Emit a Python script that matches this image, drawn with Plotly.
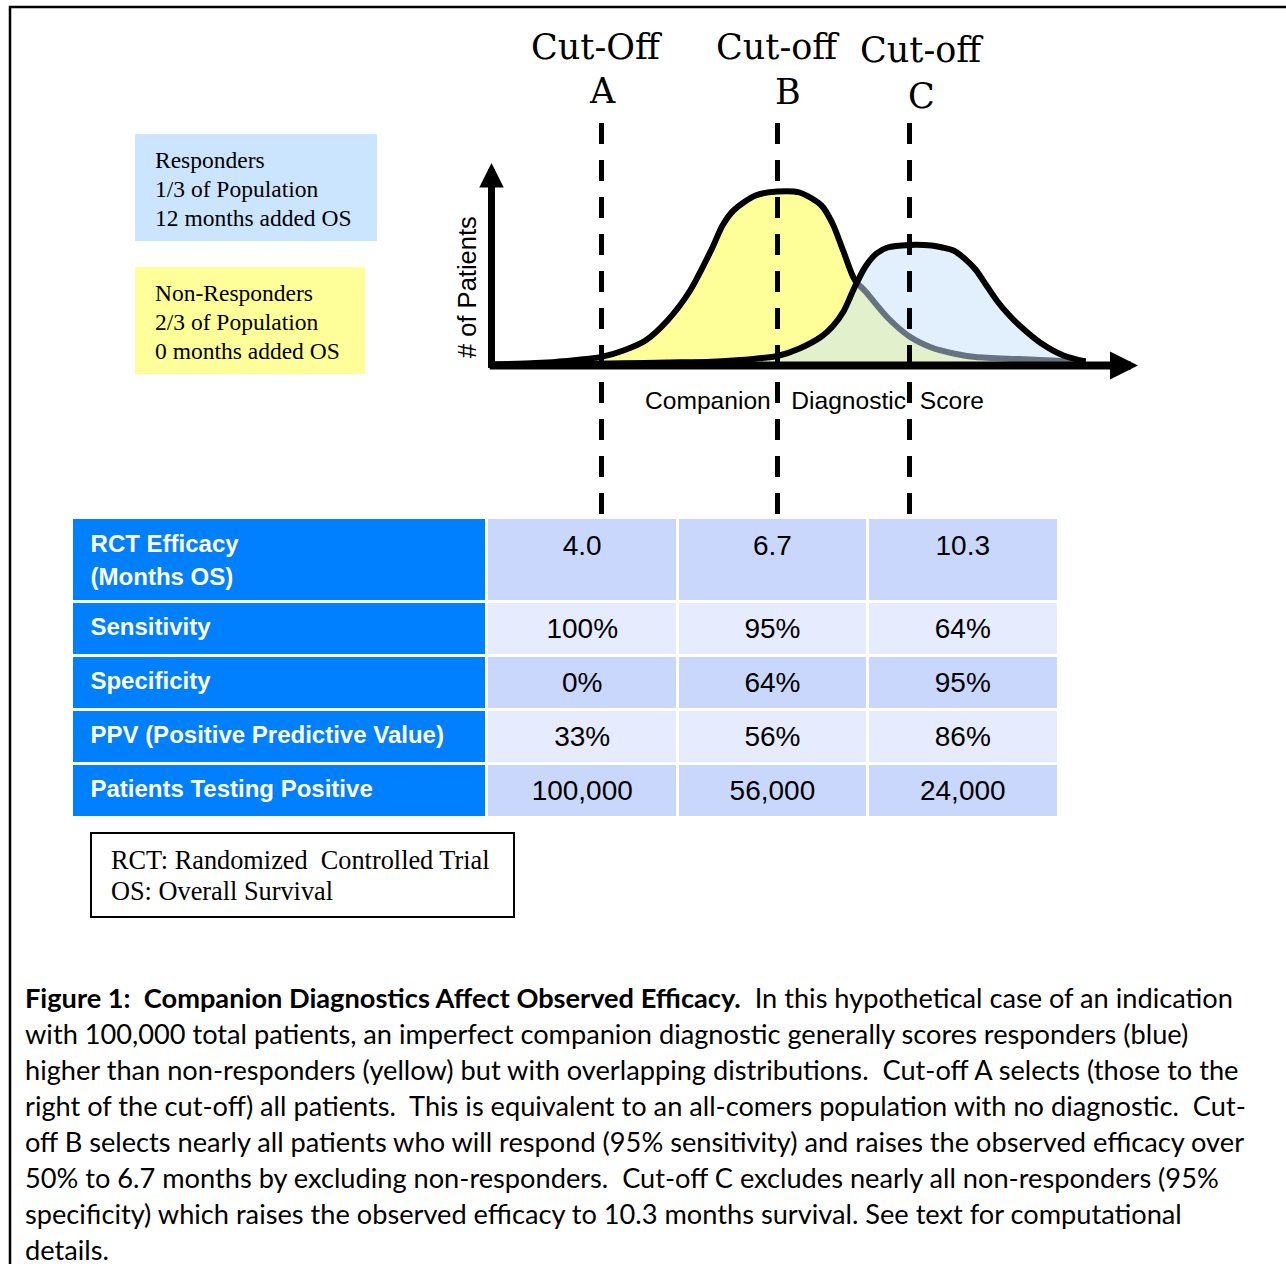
import plotly.graph_objects as go

# ---- canvas -------------------------------------------------------------
W, H = 1286, 1264

def fx(px):
    return px / W

def fy(py):
    return 1 - py / H

# ---- score distributions (diagnostic score vs. number of patients) -------
non_responder_score = [0, 2, 3, 5, 6, 7, 8, 9, 10, 10.5, 11, 12, 13, 14, 15, 15.5,
                       16, 16.5, 17, 18, 19, 20, 21, 22, 24, 26, 27]
non_responder_count = [0.5, 1.2, 1.9, 4.3, 7.5, 12.5, 22.5, 37, 58, 70, 77.5, 85, 87,
                       86.5, 80, 71, 57, 43, 37, 24, 14.5, 9, 6, 4.2, 3.2, 2.3, 2]

responder_score = [4, 6, 8, 10, 11, 12, 13, 14, 15, 15.5, 16, 16.5, 17, 17.5, 18, 19,
                   20, 20.5, 21, 21.5, 22, 22.5, 23, 23.5, 24, 25, 26, 27]
responder_count = [0.8, 1.1, 1.5, 1.9, 2.5, 3.4, 4.75, 8.5, 14.5, 19.5, 27, 39, 49.5,
                   56, 59, 60.3, 60, 59, 57.5, 53.5, 48, 40, 32, 25.5, 20, 11, 5, 2]

cutoff_scores = [5, 13, 19]
cutoff_titles = ["Cut-Off", "Cut-off", "Cut-off"]
cutoff_letters = ["A", "B", "C"]

# ---- table --------------------------------------------------------------
row_labels = ["RCT Efficacy<br>(Months OS)", "Sensitivity", "Specificity",
              "PPV (Positive Predictive Value)", "Patients Testing Positive"]
efficacy_months = [4.0, 6.7, 10.3]
sensitivity_pct = [100, 95, 64]
specificity_pct = [0, 64, 95]
ppv_pct = [33, 56, 86]
patients_positive = [100000, 56000, 24000]

legend_lines = {
    "resp": ["Responders", "1/3 of Population", "12 months added OS"],
    "nonresp": ["Non-Responders", "2/3 of Population", "0 months added OS"],
}
abbreviations = ["RCT: Randomized\u00a0 Controlled Trial", "OS: Overall Survival"]

caption_lines = [
    "<b>Figure 1:\u00a0 Companion Diagnostics Affect Observed Efficacy.</b>\u00a0 In this hypothetical case of an indication",
    "with 100,000 total patients, an imperfect companion diagnostic generally scores responders (blue)",
    "higher than non-responders (yellow) but with overlapping distributions.\u00a0 Cut-off A selects (those to the",
    "right of the cut-off) all patients.\u00a0 This is equivalent to an all-comers population with no diagnostic.\u00a0 Cut-",
    "off B selects nearly all patients who will respond (95% sensitivity) and raises the observed efficacy over",
    "50% to 6.7 months by excluding non-responders.\u00a0 Cut-off C excludes nearly all non-responders (95%",
    "specificity) which raises the observed efficacy to 10.3 months survival. See text for computational",
    "details.",
]

# ---- styling ------------------------------------------------------------
SANS = "Liberation Sans, Arial, sans-serif"
SERIF = "Liberation Serif, Times New Roman, serif"
TITLE_SERIF = "DejaVu Serif, serif"
CAPTION = "Lato, Carlito, sans-serif"
HEADER_BLUE = "#0080FF"
CELL_DARK = "#CAD7FD"
CELL_LIGHT = "#E6EBFD"

# pixel scale of the score chart: origin at (491.5, 365.5), 22 px per score
# unit, 2 px per patient unit
X0, XS = 491.5, 22.0
Y0, YS = 365.5, 2.0
x_range = [(0 - X0) / XS, (W - X0) / XS]
y_range = [(Y0 - H) / YS, Y0 / YS]

fig = go.Figure()

fig.add_trace(go.Scatter(
    x=non_responder_score, y=non_responder_count, mode="lines",
    line=dict(color="black", width=6, shape="spline", smoothing=0.8),
    fill="tozeroy", fillcolor="#FFFF99", hoverinfo="skip", showlegend=False))

fig.add_trace(go.Scatter(
    x=responder_score, y=responder_count, mode="lines",
    line=dict(color="black", width=6, shape="spline", smoothing=0.8),
    fill="tozeroy", fillcolor="rgba(198,226,251,0.514)", hoverinfo="skip",
    showlegend=False))

# ---- table ---------------------------------------------------------------
# Table text sits at the top of each cell; a taller no-break space in front of
# the text pushes the baseline down so it sits in the middle of the cell.
def strut(size):
    return f'<span style="font-size:{size}px">\u00a0</span>'

def value_cell(text):
    return f"{strut(32.5)}{text}{strut(32.5)}<br>"

def label_cell(text, strut_size=28.4):
    return (f'{strut(strut_size)}<span style="font-size:12px">\u00a0</span>'
            f'<span style="font-size:24px"><b>{text}</b></span>')

def pct(v):
    return f"{v}%"

label_cells = [label_cell(lab) + "<br>" for lab in row_labels[1:]]
value_columns = []
for i in range(3):
    column = [pct(sensitivity_pct[i]), pct(specificity_pct[i]),
              pct(ppv_pct[i]), f"{patients_positive[i]:,}"]
    value_columns.append([value_cell(v) for v in column])

row_fills = [CELL_LIGHT, CELL_DARK, CELL_LIGHT, CELL_DARK]
first_line, second_line = row_labels[0].split("<br>")
header_label = (label_cell(first_line, 29) + "<br>"
                + '<span style="font-size:20.5px">\u00a0\u00a0</span>'
                + f'<span style="font-size:24px"><b>{second_line}</b></span>')

fig.add_trace(go.Table(
    domain=dict(x=[fx(71.2), fx(1059)], y=[fy(840), fy(517.8)]),
    columnwidth=[416.1, 190.7, 190, 191],
    header=dict(
        values=[header_label] + [value_cell(f"{v:.1f}") for v in efficacy_months],
        fill=dict(color=[HEADER_BLUE, CELL_DARK, CELL_DARK, CELL_DARK]),
        font=dict(family=SANS, size=[25.4, 28, 28, 28],
                  color=["white", "black", "black", "black"]),
        align=["left", "center", "center", "center"],
        line=dict(color="white", width=3),
        height=83.5,
    ),
    cells=dict(
        values=[label_cells] + value_columns,
        fill=dict(color=[[HEADER_BLUE] * 4, row_fills, row_fills, row_fills]),
        font=dict(family=SANS, size=[24, 28, 28, 28],
                  color=["white", "black", "black", "black"]),
        align=["left", "center", "center", "center"],
        line=dict(color="white", width=3),
        height=54,
    ),
))

shapes = []
annotations = []

def note(text, x, y, size, family, xanchor="left", yanchor="middle", **kw):
    annotations.append(dict(xref="paper", yref="paper", x=fx(x), y=fy(y),
                            xanchor=xanchor, yanchor=yanchor, align="left",
                            showarrow=False, text=text,
                            font=dict(family=family, size=size, color="black"), **kw))

# outer frame
shapes.append(dict(type="rect", xref="paper", yref="paper",
                   x0=fx(10), y0=fy(7), x1=fx(1300), y1=fy(1280),
                   line=dict(color="black", width=2.5), fillcolor="rgba(0,0,0,0)"))

# legend boxes
shapes.append(dict(type="rect", xref="paper", yref="paper", layer="below",
                   x0=fx(135), y0=fy(134), x1=fx(377), y1=fy(241),
                   line=dict(width=0), fillcolor="#CCE5FF"))
shapes.append(dict(type="rect", xref="paper", yref="paper", layer="below",
                   x0=fx(135), y0=fy(267), x1=fx(365), y1=fy(374),
                   line=dict(width=0), fillcolor="#FFFF99"))
for i, line in enumerate(legend_lines["resp"]):
    note(line, 153, 159.5 + 29.5 * i, 23.5, SERIF)
for i, line in enumerate(legend_lines["nonresp"]):
    note(line, 153, 292.5 + 29 * i, 23.5, SERIF)

# abbreviation box
shapes.append(dict(type="rect", xref="paper", yref="paper",
                   x0=fx(91), y0=fy(833), x1=fx(514), y1=fy(917),
                   line=dict(color="black", width=2), fillcolor="white"))
for i, line in enumerate(abbreviations):
    note(line, 109, 860 + 31.5 * i, 26.3, SERIF)

# cut-off lines and their labels
title_shift = [-5, 0, 12]
letter_shift = [1, 10, 12]
title_y = [46.5, 46.5, 50]
letter_y = [91, 91.5, 95.5]
for s, t, l, ts, ls, ty, ly in zip(cutoff_scores, cutoff_titles, cutoff_letters,
                                   title_shift, letter_shift, title_y, letter_y):
    shapes.append(dict(type="line", xref="x", yref="y",
                       x0=s, x1=s, y0=(Y0 - 123) / YS, y1=(Y0 - 517) / YS,
                       line=dict(color="black", width=5, dash="21px,16px")))
    annotations.append(dict(xref="x", yref="paper", x=s, xshift=ts, y=fy(ty),
                            xanchor="center", yanchor="middle", showarrow=False, text=t,
                            font=dict(family=TITLE_SERIF, size=35, color="black")))
    annotations.append(dict(xref="x", yref="paper", x=s, xshift=ls, y=fy(ly),
                            xanchor="center", yanchor="middle", showarrow=False, text=l,
                            font=dict(family=TITLE_SERIF, size=35, color="black")))

# axis arrows
annotations.append(dict(xref="x", yref="y", axref="x", ayref="y",
                        x=0, y=(Y0 - 163) / YS, ax=0, ay=-2, text="",
                        showarrow=True, arrowhead=2, arrowsize=0.7, arrowwidth=7,
                        arrowcolor="black", standoff=0))
annotations.append(dict(xref="x", yref="y", axref="x", ayref="y",
                        x=(1138 - X0) / XS, y=0, ax=-0.15, ay=0, text="",
                        showarrow=True, arrowhead=2, arrowsize=0.7, arrowwidth=8,
                        arrowcolor="black", standoff=0))

# axis titles
note("# of Patients", 467, 287, 25.5, SANS, xanchor="center", textangle=-90)
note("Companion\u00a0\u00a0 Diagnostic\u00a0 Score", 814.5, 400, 24.6, SANS,
     xanchor="center")

# caption
for i, line in enumerate(caption_lines):
    note(line, 22.5, 997.5 + 36 * i, 27.2, CAPTION)

fig.update_layout(
    width=W, height=H,
    margin=dict(l=0, r=0, t=0, b=0),
    paper_bgcolor="white", plot_bgcolor="rgba(0,0,0,0)",
    xaxis=dict(range=x_range, domain=[0, 1], visible=False, fixedrange=True),
    yaxis=dict(range=y_range, domain=[0, 1], visible=False, fixedrange=True),
    shapes=shapes, annotations=annotations, showlegend=False,
)

fig.write_html("out.html", config=dict(displayModeBar=False))
